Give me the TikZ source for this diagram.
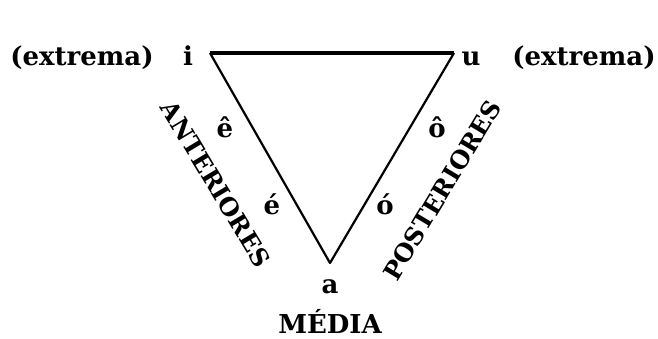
\documentclass[tikz,border=0pt]{standalone}
\usepackage{fontspec}
\setmainfont{DejaVu Serif}
\usetikzlibrary{positioning}

\begin{document}
\begin{tikzpicture}[x=1pt, y=-1pt,
    lbl/.style={font=\fontsize{26}{30}\selectfont\bfseries, inner sep=0pt},
    vowel/.style={lbl, anchor=base},
    sidename/.style={font=\fontsize{24.5}{28}\selectfont\bfseries, inner sep=0pt},
    topside/.style={line width=3.2pt},
    slant/.style={line width=2.2pt, line join=round}]
    \useasboundingbox (0,0) rectangle (658,338);
    % corners of the triangle
    \coordinate (vi) at (210,53);
    \coordinate (vu) at (454,53);
    \coordinate (va) at (330,263);
    \draw[topside] (vi) -- (vu);
    \draw[slant] (vu) -- (va) -- (vi);
    % vertices
    \node[vowel] (i) at (188,65) {i};
    \node[vowel] (u) at (471,65) {u};
    \node[vowel] (a) at (330,293) {a};
    \node[vowel] (exl) at (82,65) {(extrema)};
    \node[vowel] (exr) at (584,65) {(extrema)};
    \node[vowel] (media) at (330,333) {MÉDIA};
    % sides
    \node[sidename, rotate=-59] (ant) at (216,184) {ANTERIORES};
    \node[sidename, rotate=59] (post) at (442,190) {POSTERIORES};
    \node[lbl] (ec) at (225,127) {ê};
    \node[lbl] (eo) at (272,204) {é};
    \node[lbl] (oc) at (437,127) {ô};
    \node[lbl] (oo) at (385,204) {ó};
\end{tikzpicture}
\end{document}
